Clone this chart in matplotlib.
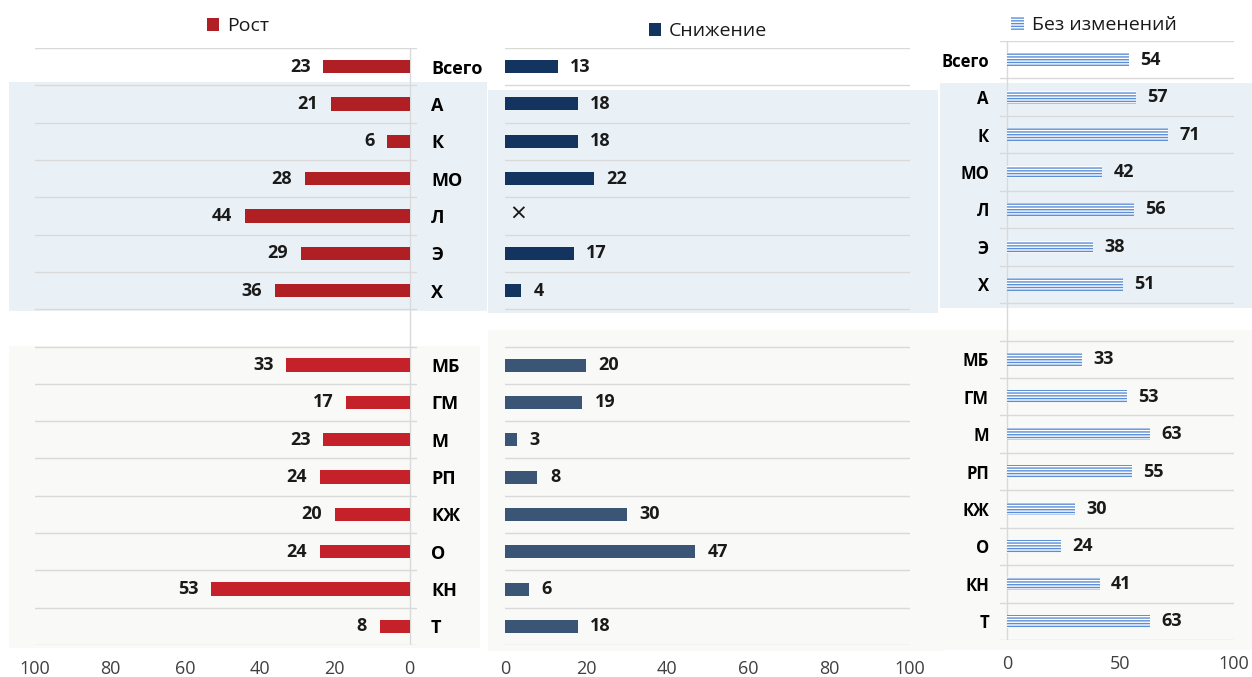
import numpy as np
import matplotlib
matplotlib.use("Agg")
import matplotlib.pyplot as plt
from matplotlib.patches import Patch, Rectangle

plt.rcParams['font.family'] = ['Open Sans', 'DejaVu Sans']
plt.rcParams['hatch.linewidth'] = 1.0

categories = ["Всего", "А", "К", "МО", "Л", "Э", "Х",
              "МБ", "ГМ", "М", "РП", "КЖ", "О", "КН", "Т"]
group = [1, 1, 1, 1, 1, 1, 1, 2, 2, 2, 2, 2, 2, 2, 2]
growth = [23, 21, 6, 28, 44, 29, 36, 33, 17, 23, 24, 20, 24, 53, 8]
decline = [13, 18, 18, 22, None, 17, 4, 20, 19, 3, 8, 30, 47, 6, 18]
unchanged = [54, 57, 71, 42, 56, 38, 51, 33, 53, 63, 55, 30, 24, 41, 63]
left_ticks = [0, 20, 40, 60, 80, 100]
mid_ticks = [0, 20, 40, 60, 80, 100]
right_ticks = [0, 50, 100]

W, H = 1252, 677
fig = plt.figure(figsize=(W / 100, H / 100), dpi=100)

def fx(px):
    return px / W

def fy(py):
    return 1 - py / H

# background panels
BLUE = '#eaf1f6'
BEIGE = '#f9f9f7'
def rect(x0, y0, x1, y1, c):
    fig.patches.append(Rectangle((fx(x0), fy(y1)), fx(x1) - fx(x0), fy(y0) - fy(y1),
                                 transform=fig.transFigure, facecolor=c,
                                 edgecolor='none', zorder=-5))
rect(9, 82, 487, 311, BLUE)
rect(488, 90, 938, 313, BLUE)
rect(940, 83, 1252, 308, BLUE)
rect(9, 346, 480, 648, BEIGE)
rect(488, 330, 945, 651, BEIGE)
rect(945, 330, 1252, 650, BEIGE)

# slot positions (gap after first group)
pos = []
slot = 0
for i, g in enumerate(group):
    if i > 0 and g != group[i - 1]:
        slot += 1
    pos.append(slot)
    slot += 1
nslots = slot

red = {1: '#b01f24', 2: '#c4212a'}
navy = {1: '#12345e', 2: '#3a5576'}
HATCH_C = '#5b8ed6'
GRID_C = '#d9d9d9'
TICK_C = '#404040'

def make_ax(x0, x1, ytop, ybot):
    ax = fig.add_axes([fx(x0), fy(ybot), fx(x1) - fx(x0), fy(ytop) - fy(ybot)])
    ax.set_facecolor('none')
    ax.set_ylim(nslots - 0.5, -0.5)
    ax.set_yticks(np.arange(-0.5, nslots, 1), minor=True)
    ax.grid(which='minor', axis='y', color=GRID_C, linewidth=1)
    ax.tick_params(which='both', length=0)
    for s in ax.spines.values():
        s.set_visible(False)
    ax.set_axisbelow(True)
    return ax

# left panel: growth
axL = make_ax(35, 417, 48, 645)
axL.set_xlim(100, -2)
axL.set_xticks(left_ticks)
axL.tick_params(axis='x', labelsize=13, labelcolor=TICK_C, pad=11)
axL.yaxis.tick_right()
axL.set_yticks(pos)
axL.set_yticklabels(categories, fontsize=13, fontweight='bold')
axL.tick_params(axis='y', pad=10, length=0)
axL.axvline(0, color=GRID_C, linewidth=1, zorder=1)
axL.barh(pos, growth, height=0.36, color=[red[g] for g in group], zorder=3)
for p, v in zip(pos, growth):
    axL.annotate(str(v), (v, p), xytext=(-9, 0), textcoords='offset points',
                 ha='right', va='center', fontsize=13, fontweight='bold', color='#1a1a1a')

# middle panel: decline
axM = make_ax(505, 910, 48, 645)
axM.set_xlim(0, 100)
axM.set_xticks(mid_ticks)
axM.tick_params(axis='x', labelsize=13, labelcolor=TICK_C, pad=11)
axM.set_yticks([])
for p, v, g in zip(pos, decline, group):
    if v is None:
        axM.annotate('×', (0, p), xytext=(9.5, 0), textcoords='offset points',
                     ha='center', va='center', fontsize=20, color='#1a1a1a')
        continue
    axM.barh(p, v, height=0.35, color=navy[g], zorder=3)
    axM.annotate(str(v), (v, p), xytext=(9, 0), textcoords='offset points',
                 ha='left', va='center', fontsize=13, fontweight='bold', color='#1a1a1a')

# right panel: unchanged
axR = make_ax(1000, 1234, 41, 640)
axR.set_xlim(-3, 100)
axR.set_xticks(right_ticks)
axR.tick_params(axis='x', labelsize=13, labelcolor=TICK_C, pad=11)
axR.set_yticks(pos)
axR.set_yticklabels(categories, fontsize=12, fontweight='bold')
axR.tick_params(axis='y', pad=8, length=0)
axR.axvline(0, color=GRID_C, linewidth=1, zorder=1)
axR.barh(pos, unchanged, height=0.34, color='white', edgecolor=HATCH_C,
         hatch='------', linewidth=0, zorder=3)
for p, v in zip(pos, unchanged):
    axR.annotate(str(v), (v, p), xytext=(8, 0), textcoords='offset points',
                 ha='left', va='center', fontsize=13, fontweight='bold', color='#1a1a1a')

# legends
def leg(handle, label, cx, cy):
    fig.legend(handles=[handle], labels=[label], loc='center',
               bbox_to_anchor=(fx(cx), fy(cy)), frameon=False, fontsize=14,
               handlelength=0.65, handleheight=0.65, handletextpad=0.4,
               borderpad=0, labelcolor='#1a1a1a')

leg(Patch(facecolor=red[1], edgecolor='none'), 'Рост', 238, 26)
leg(Patch(facecolor=navy[1], edgecolor='none'), 'Снижение', 708, 31)
leg(Patch(facecolor='white', edgecolor=HATCH_C, hatch='------', linewidth=0),
    'Без изменений', 1094, 25)

fig.savefig('out.png', dpi=100)
